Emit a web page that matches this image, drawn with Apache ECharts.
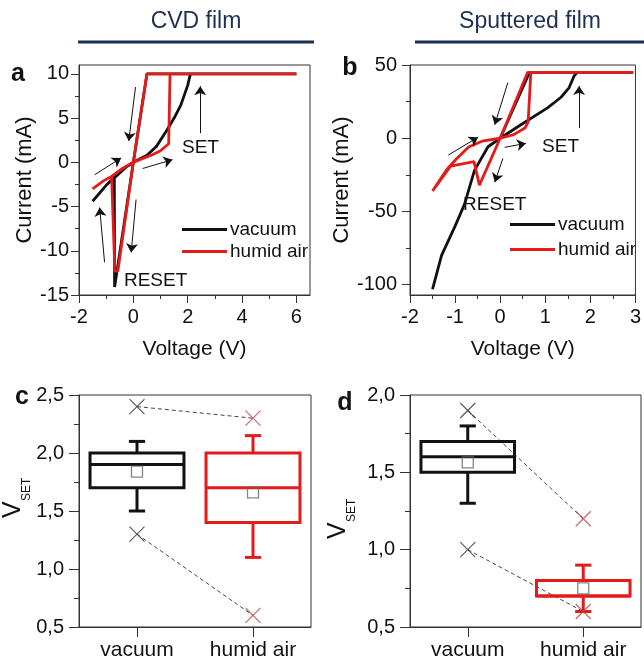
<!DOCTYPE html>
<html>
<head>
<meta charset="utf-8">
<script src="https://cdn.jsdelivr.net/npm/echarts@6/dist/echarts.min.js"></script>
<style>
html,body{margin:0;padding:0;background:#fff;}
#chart{width:644px;height:661px;}
</style>
</head>
<body>
<div id="chart"></div>
<script>
// ---------------- DATA ----------------
const seriesNames = ['vacuum', 'humid air'];
const vsetCategories = ['vacuum', 'humid air'];

// Panel a (CVD film) I-V loops: [V, mA]
const aVacuum = [[0,0],[0.5,0.8],[0.85,1.8],[1.25,3.7],[1.5,5.0],[1.75,6.5],[2.0,8.7],[2.1,10],[6.0,10],
  [0.5,10],[0,0],[-0.69,-14.1],[-0.7,-1.7],[-1.0,-2.6],[-1.5,-4.4],[-1.0,-2.6],[-0.5,-1.2],[-0.25,-0.5],[0,0]];
const aHumid = [[0,0],[0.4,0.5],[0.7,0.85],[1.0,1.3],[1.3,2.1],[1.35,10],[6.0,10],
  [0.5,10],[0,0],[-0.57,-12.3],[-0.68,-12.3],[-0.8,-1.6],[-1.1,-2.1],[-1.5,-3.0],[-1.1,-2.1],[-0.8,-1.6],[-0.4,-0.7],[0,0]];

// Panel b (Sputtered film) I-V loops: [V, mA]
const bVacuum = [[0,0],[0.46,9.2],[1.05,20.7],[1.35,28],[1.53,34.6],[1.64,42.6],[1.71,45],[2.95,45],
  [0.65,45],[0,0],[-0.27,-5.8],[-0.57,-21.9],[-0.79,-45],[-1.0,-60],[-1.3,-80],[-1.5,-103],
  [-1.3,-80],[-1.0,-60],[-0.79,-45],[-0.57,-21.9],[-0.27,-5.8],[0,0]];
const bHumid = [[0,0],[0.3,2.5],[0.55,7],[0.62,11],[0.68,45],[2.95,45],
  [0.61,45],[0,0],[-0.46,-32],[-0.58,-16],[-1.1,-19],[-1.5,-36],[-1.2,-22],[-1.0,-15],[-0.7,-6],[-0.4,-2],[0,0]];

// Arrow annotations in data units: [[from],[to]]
const aArrows = [[[0.08,8.5],[-0.17,2.4]],[[2.46,3.3],[2.46,8.6]],[[-1.42,-1.4],[-0.45,0.5]],
  [[0.34,-0.7],[1.44,0.3]],[[0.10,-4.2],[-0.08,-10.2]],[[-1.06,-11.3],[-1.24,-5.1]]];
const bArrows = [[[0.17,38],[-0.12,9.2]],[[1.75,6.9],[1.75,35.7]],[[-1.15,-11.5],[-0.49,0.7]],
  [[0.1,-6.2],[0.57,-3.5]],[[0.06,-13.8],[-0.12,-30]]];
const aTexts = [['SET',2.47,1.6],['RESET',0.82,-13.35]];
const bTexts = [['SET',1.34,-5.5],['RESET',-0.12,-45.3]];

// Tick values
const aXMajor = [-2,0,2,4,6], aXMinor = [-1,1,3,5];
const aYMajor = [-15,-10,-5,0,5,10], aYMinor = [-12.5,-7.5,-2.5,2.5,7.5];
const bXMajor = [-2,-1,0,1,2,3], bXMinor = [-1.5,-0.5,0.5,1.5,2.5];
const bYMajor = [-100,-50,0,50], bYMinor = [-75,-25,25];
const cYMajor = [0.5,1.0,1.5,2.0,2.5], cYMinor = [0.75,1.25,1.75,2.25];
const dYMajor = [0.5,1.0,1.5,2.0], dYMinor = [0.75,1.25,1.75];

// Box statistics V_SET: [min, Q1, median, Q3, max]
const cVacuumBox = [1.5,1.7,1.9,2.0,2.1], cHumidBox = [1.1,1.4,1.7,2.0,2.15];
const dVacuumBox = [1.3,1.5,1.6,1.7,1.8], dHumidBox = [0.6,0.7,0.7,0.8,0.9];
const cMeans = [1.84,1.66], dMeans = [1.565,0.75];
// extreme values (max, min) per category
const cVacuumX = [2.4,1.3], cHumidX = [2.3,0.6];
const dVacuumX = [1.9,1.0], dHumidX = [1.2,0.6];

// ---------------- STYLE / BUILD ----------------
const FONT = "'Liberation Sans', Arial, Helvetica, sans-serif";
const BLACK = '#111111', RED = '#e31b1b', FRAME = '#333333';
const NAVY = '#1d2f52';

function valAxis(gi, pos, min, max, major, minor, tickLen, margin, fmt, name, nameGap, nameSize) {
  const main = {
    gridIndex: gi, type: 'value', position: pos, min: min, max: max,
    axisLine: {show: true, onZero: false, lineStyle: {color: FRAME, width: 1}},
    axisTick: {show: true, inside: false, length: tickLen, customValues: major, lineStyle: {color: FRAME, width: 1}},
    axisLabel: {show: true, customValues: major, fontSize: 20, color: BLACK, fontFamily: FONT, margin: margin,
      formatter: fmt || (v => String(v))},
    minorTick: {show: false}, splitLine: {show: false}
  };
  if (name) {
    main.name = name; main.nameLocation = 'middle'; main.nameGap = nameGap;
    main.nameTextStyle = {fontSize: nameSize, color: BLACK, fontFamily: FONT};
  }
  const mn = {
    gridIndex: gi, type: 'value', position: pos, min: min, max: max,
    axisLine: {show: false, onZero: false},
    axisTick: {show: true, inside: false, length: Math.round(tickLen/2), customValues: minor, lineStyle: {color: FRAME, width: 1}},
    axisLabel: {show: false}, splitLine: {show: false}
  };
  return [main, mn];
}
const comma = v => v.toFixed(1).replace('.', ',');

function catAxis(gi) {
  return {
    gridIndex: gi, type: 'category', position: 'bottom', data: vsetCategories, boundaryGap: true,
    axisLine: {show: true, onZero: false, lineStyle: {color: FRAME, width: 1}},
    axisTick: {show: true, alignWithLabel: true, length: 10, lineStyle: {color: FRAME}},
    axisLabel: {fontSize: 21, color: BLACK, fontFamily: FONT, margin: 13},
    splitLine: {show: false}
  };
}

const xAxes = [
  ...valAxis(0, 'bottom', -2, 6.5, aXMajor, aXMinor, 8, 12, null, 'Voltage (V)', 44, 21),
  ...valAxis(1, 'bottom', -2, 3, bXMajor, bXMinor, 8, 12, null, 'Voltage (V)', 44, 21),
  catAxis(2), catAxis(3)
];
const yAxes = [
  ...valAxis(0, 'left', -15, 11, aYMajor, aYMinor, 8, 10, null, 'Current (mA)', 37, 22),
  ...valAxis(1, 'left', -107, 50, bYMajor, bYMinor, 8, 13, null, 'Current (mA)', 46, 22),
  ...valAxis(2, 'left', 0.5, 2.5, cYMajor, cYMinor, 10, 15, comma),
  ...valAxis(3, 'left', 0.5, 2.0, dYMajor, dYMinor, 10, 15, comma)
];

function arrowLines(arr) {
  return {
    silent: true, symbol: ['none', 'arrow'], symbolSize: 9, animation: false,
    label: {show: false}, lineStyle: {color: BLACK, width: 1, type: 'solid'},
    emphasis: {disabled: true},
    data: arr.map(a => [{coord: a[0]}, {coord: a[1]}])
  };
}
function textPoints(arr) {
  return {
    silent: true, symbol: 'circle', symbolSize: 1, itemStyle: {color: 'rgba(0,0,0,0)'},
    label: {show: true, position: 'inside', formatter: p => p.name, fontSize: 19, color: BLACK, fontFamily: FONT},
    data: arr.map(t => ({name: t[0], coord: [t[1], t[2]]}))
  };
}
function ivLine(name, data, color, xi, yi, extra) {
  return Object.assign({
    type: 'line', name: name, data: data, xAxisIndex: xi, yAxisIndex: yi,
    showSymbol: false, symbol: 'none', smooth: false,
    lineStyle: {color: color, width: 2.8}, itemStyle: {color: color}, z: color === RED ? 3 : 2
  }, extra || {});
}

function boxRender(colors) {
  return function (params, api) {
    const i = api.value(0);
    const lo = api.coord([i, api.value(1)]);
    const q1 = api.coord([i, api.value(2)]);
    const med = api.coord([i, api.value(3)]);
    const q3 = api.coord([i, api.value(4)]);
    const hi = api.coord([i, api.value(5)]);
    const bw = api.size([1, 0])[0];
    const hw = bw * 0.405, cw = bw * 0.07, cx = q1[0];
    const st = {stroke: colors[params.dataIndex], lineWidth: 3, fill: 'none'};
    return {type: 'group', children: [
      {type: 'line', shape: {x1: cx, y1: q3[1], x2: cx, y2: hi[1]}, style: st},
      {type: 'line', shape: {x1: cx, y1: q1[1], x2: cx, y2: lo[1]}, style: st},
      {type: 'line', shape: {x1: cx - cw, y1: hi[1], x2: cx + cw, y2: hi[1]}, style: st},
      {type: 'line', shape: {x1: cx - cw, y1: lo[1], x2: cx + cw, y2: lo[1]}, style: st},
      {type: 'rect', shape: {x: cx - hw, y: q3[1], width: 2 * hw, height: q1[1] - q3[1]}, style: st},
      {type: 'line', shape: {x1: cx - hw, y1: med[1], x2: cx + hw, y2: med[1]}, style: st}
    ]};
  };
}
const XPATH = 'path://M0,0L10,10M10,0L0,10';
function boxSeries(xi, yi, vacBox, humBox, means, vacX, humX) {
  return [
    {type: 'line', data: [[0, vacX[0]], [1, humX[0]]], xAxisIndex: xi, yAxisIndex: yi, symbol: 'none',
      lineStyle: {color: '#444', width: 1, type: [4, 3]}, z: 1},
    {type: 'line', data: [[0, vacX[1]], [1, humX[1]]], xAxisIndex: xi, yAxisIndex: yi, symbol: 'none',
      lineStyle: {color: '#444', width: 1, type: [4, 3]}, z: 1},
    {type: 'custom', xAxisIndex: xi, yAxisIndex: yi, renderItem: boxRender([BLACK, RED]),
      data: [[0].concat(vacBox), [1].concat(humBox)], encode: {x: 0, y: [1, 2, 3, 4, 5]}, z: 2},
    {type: 'scatter', xAxisIndex: xi, yAxisIndex: yi, symbol: 'rect', symbolSize: 11,
      data: means.map((m, i) => [i, m]),
      itemStyle: {color: 'rgba(255,255,255,0)', borderColor: '#666', borderWidth: 1.3}, z: 3},
    {type: 'scatter', xAxisIndex: xi, yAxisIndex: yi, symbol: XPATH, symbolSize: 15,
      data: vacX.map(v => [0, v]), itemStyle: {color: 'none', borderColor: '#333', borderWidth: 1.2}, z: 4},
    {type: 'scatter', xAxisIndex: xi, yAxisIndex: yi, symbol: XPATH, symbolSize: 15,
      data: humX.map(v => [1, v]), itemStyle: {color: 'none', borderColor: '#b84444', borderWidth: 1.2}, z: 4}
  ];
}

const series = [
  ivLine(seriesNames[0], aVacuum, BLACK, 0, 0, {markLine: arrowLines(aArrows), markPoint: textPoints(aTexts)}),
  ivLine(seriesNames[1], aHumid, RED, 0, 0),
  ivLine(seriesNames[0], bVacuum, BLACK, 2, 2, {markLine: arrowLines(bArrows), markPoint: textPoints(bTexts)}),
  ivLine(seriesNames[1], bHumid, RED, 2, 2),
  ...boxSeries(4, 4, cVacuumBox, cHumidBox, cMeans, cVacuumX, cHumidX),
  ...boxSeries(5, 6, dVacuumBox, dHumidBox, dMeans, dVacuumX, dHumidX)
];

function legend(left, top, gap) {
  return {
    left: left, top: top, orient: 'vertical', padding: 0, itemGap: gap, itemWidth: 45, itemHeight: 3,
    icon: 'rect', selectedMode: false, data: seriesNames,
    textStyle: {fontSize: 19, color: BLACK, fontFamily: FONT, padding: [0, 0, 0, -2]}
  };
}

function txt(x, y, text, size, bold, color) {
  return {type: 'text', x: x, y: y, silent: true,
    style: {text: text, fontSize: size, fontWeight: bold ? 'bold' : 'normal', fontFamily: FONT,
      fill: color || BLACK, align: 'center', verticalAlign: 'middle'}};
}
function vset(x, y) {
  return {type: 'group', x: x, y: y, rotation: Math.PI / 2, silent: true, children: [
    {type: 'text', x: 0, y: 0, style: {text: 'V', fontSize: 25, fontFamily: FONT, fill: BLACK, align: 'left', verticalAlign: 'middle'}},
    {type: 'text', x: 17, y: 14, style: {text: 'SET', fontSize: 12, fontFamily: FONT, fill: BLACK, align: 'left', verticalAlign: 'middle'}}
  ]};
}

const option = {
  animation: false,
  backgroundColor: '#ffffff',
  grid: [
    {left: 79, top: 65, width: 231, height: 230, show: true, borderColor: FRAME, borderWidth: 1, backgroundColor: 'transparent'},
    {left: 410, top: 65, width: 229, height: 230, show: true, borderColor: FRAME, borderWidth: 1, backgroundColor: 'transparent'},
    {left: 79, top: 395, width: 232, height: 232, show: true, borderColor: FRAME, borderWidth: 1, backgroundColor: 'transparent'},
    {left: 410, top: 395, width: 231, height: 232, show: true, borderColor: FRAME, borderWidth: 1, backgroundColor: 'transparent'}
  ],
  xAxis: xAxes,
  yAxis: yAxes,
  legend: [legend(182, 220, 3), legend(510, 215, 6)],
  series: series,
  graphic: [
    txt(196, 22, 'CVD film', 23, false, NAVY),
    {type: 'line', silent: true, shape: {x1: 78, y1: 42, x2: 314, y2: 42}, style: {stroke: NAVY, lineWidth: 3}},
    txt(530, 22, 'Sputtered film', 23, false, NAVY),
    {type: 'line', silent: true, shape: {x1: 415, y1: 42, x2: 644, y2: 42}, style: {stroke: NAVY, lineWidth: 3}},
    txt(18, 74, 'a', 25, true),
    txt(350, 68, 'b', 25, true),
    txt(22, 397, 'c', 25, true),
    txt(345, 403, 'd', 25, true),
    vset(13, 518),
    vset(338, 539)
  ]
};

const chart = echarts.init(document.getElementById('chart'), null, {renderer: 'canvas'});
chart.setOption(option);
</script>
</body>
</html>
